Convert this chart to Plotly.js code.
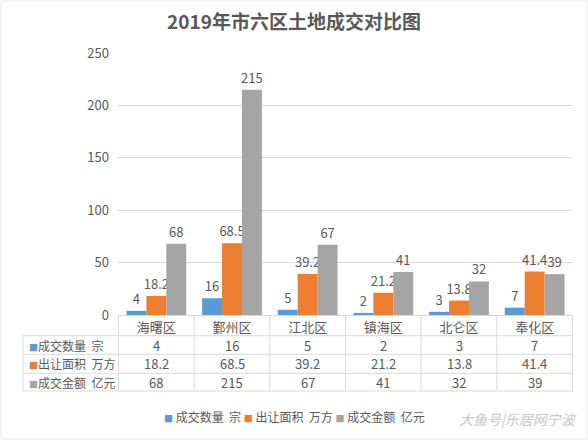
<!DOCTYPE html>
<html>
<head>
<meta charset="utf-8">
<script src="https://cdn.plot.ly/plotly-3.0.1.min.js"></script>
<style>html,body{margin:0;padding:0;background:#fff;}#chart{width:588px;height:440px;}</style>
</head>
<body>
<div id="chart"></div>
<script>
const categories = ['海曙区', '鄞州区', '江北区', '镇海区', '北仑区', '奉化区'];
const seriesNames = ['成交数量\u00a0\u00a0宗', '出让面积\u00a0\u00a0万方', '成交金额\u00a0\u00a0亿元'];
const countValues = [4, 16, 5, 2, 3, 7];
const areaValues = [18.2, 68.5, 39.2, 21.2, 13.8, 41.4];
const amountValues = [68, 215, 67, 41, 32, 39];
const yTicks = [0, 50, 100, 150, 200, 250];
const titleText = '2019年市六区土地成交对比图';
const watermark = '大鱼号|乐居网宁波';

const colors = ['#5B9BD5', '#ED7D31', '#A5A5A5'];
const allSeries = [countValues, areaValues, amountValues];
const txt = '#595959';
const font = '"Noto Sans CJK SC", "Microsoft YaHei", sans-serif';

const W = 588, H = 440, L = 118, R = 15, T = 53, B = 125;
const pw = W - L - R, ph = H - T - B;
const px = x => (x - L) / pw;
const py = y => (H - B - y) / ph;

const traces = allSeries.map((vals, i) => ({
  type: 'bar',
  name: seriesNames[i],
  x: categories,
  y: vals,
  marker: {color: colors[i]},
  text: vals.map(String),
  textposition: 'outside',
  constraintext: 'none',
  cliponaxis: false,
  textfont: {family: font, size: 13, color: txt},
  hoverinfo: 'x+y+name'
}));

const gridColor = '#D9D9D9';
const shapes = [];
const rowLines = [335.7, 354.3, 373.3, 391];
rowLines.forEach(y => shapes.push({type: 'line', xref: 'paper', yref: 'paper',
  x0: px(23), x1: 1, y0: py(y), y1: py(y), line: {color: gridColor, width: 1}}));
for (let i = 0; i <= categories.length; i++) {
  shapes.push({type: 'line', xref: 'x', yref: 'paper', x0: i - 0.5, x1: i - 0.5,
    y0: 0, y1: py(391), line: {color: gridColor, width: 1}});
}
shapes.push({type: 'line', xref: 'paper', yref: 'paper', x0: px(23), x1: px(23),
  y0: py(335.7), y1: py(391), line: {color: gridColor, width: 1}});
shapes.push({type: 'rect', xref: 'paper', yref: 'paper', x0: px(1), x1: px(587),
  y0: py(439), y1: py(1), line: {color: '#E8E8E8', width: 1}});

const annotations = [];
const rowCenters = [345, 363.8, 382.2];
allSeries.forEach((vals, s) => {
  annotations.push({xref: 'paper', yref: 'paper', x: px(27), y: py(rowCenters[s]),
    xanchor: 'left', yanchor: 'middle', showarrow: false,
    text: '<span style="color:' + colors[s] + ';font-size:9px">■</span>' + seriesNames[s],
    font: {family: font, size: 12, color: txt}});
  vals.forEach((v, c) => annotations.push({xref: 'x', yref: 'paper', x: categories[c],
    y: py(rowCenters[s]), xanchor: 'center', yanchor: 'middle', showarrow: false,
    text: String(v), font: {family: font, size: 13, color: txt}}));
});
// legend
let legendText = seriesNames.map((n, i) =>
  '<span style="color:' + colors[i] + ';font-size:9px">■</span> ' + n).join(' ');
annotations.push({xref: 'paper', yref: 'paper', x: px(294), y: py(417), xanchor: 'center',
  yanchor: 'middle', showarrow: false, text: legendText,
  font: {family: font, size: 12, color: txt}});
annotations.push({xref: 'paper', yref: 'paper', x: px(579), y: py(419), xanchor: 'right',
  yanchor: 'middle', showarrow: false, text: '<i>' + watermark + '</i>',
  font: {family: font, size: 14, color: '#C8C8C8'}});

const layout = {
  width: W, height: H,
  margin: {l: L, r: R, t: T, b: B},
  paper_bgcolor: '#fff', plot_bgcolor: '#fff',
  title: {text: '<b>' + titleText + '</b>', x: 0.5, xref: 'container', y: 1 - 22 / H,
    yref: 'container', yanchor: 'middle', font: {family: font, size: 19, color: txt}},
  showlegend: false,
  barmode: 'group', bargap: 0.21, bargroupgap: 0,
  xaxis: {type: 'category', showline: true, linecolor: gridColor, linewidth: 1, ticks: '',
    tickfont: {family: font, size: 13, color: txt}, showgrid: false, zeroline: false,
    fixedrange: true},
  yaxis: {range: [0, 250], tickvals: yTicks, ticks: '', gridcolor: gridColor, zeroline: false,
    showline: false, tickfont: {family: font, size: 13, color: txt}, ticklabelstandoff: 8,
    fixedrange: true},
  shapes: shapes,
  annotations: annotations,
  font: {family: font, color: txt}
};

Plotly.newPlot('chart', traces, layout, {displayModeBar: false, staticPlot: true});
</script>
</body>
</html>
